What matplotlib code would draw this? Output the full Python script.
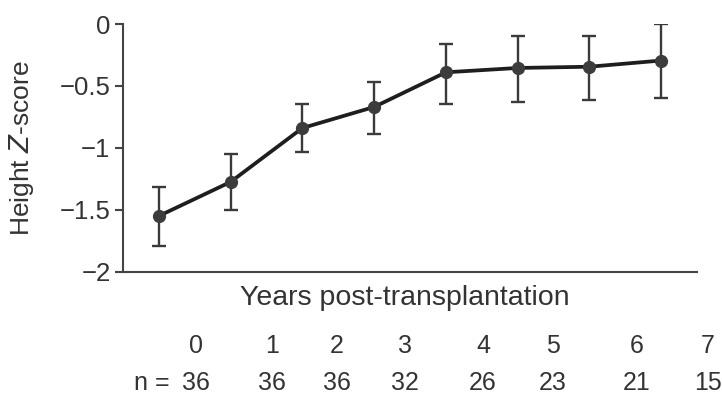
import matplotlib
matplotlib.use("Agg")
import matplotlib.pyplot as plt

years = [0, 1, 2, 3, 4, 5, 6, 7]
n_counts = [36, 36, 36, 32, 26, 23, 21, 15]
z_mean = [-1.55, -1.275, -0.84, -0.67, -0.39, -0.355, -0.345, -0.295]
z_upper = [-1.32, -1.05, -0.645, -0.47, -0.16, -0.095, -0.095, 0.0]
z_lower = [-1.79, -1.50, -1.03, -0.89, -0.645, -0.63, -0.61, -0.595]

plt.rcParams['font.family'] = ['Liberation Sans', 'DejaVu Sans']
TXT = '#333333'

fig = plt.figure(figsize=(7.22, 3.97), dpi=100)
ax = fig.add_axes([123/722, 1 - 271.7/397, (697 - 123)/722, (271.7 - 24)/397])

err_lo = [m - l for m, l in zip(z_mean, z_lower)]
err_hi = [u - m for m, u in zip(z_mean, z_upper)]
ax.errorbar(years, z_mean, yerr=[err_lo, err_hi], fmt='none', ecolor='#3a3a3a',
            elinewidth=1.7, capsize=5, capthick=1.7, zorder=2)
ax.plot(years, z_mean, color='#1e1e1e', lw=2.7, zorder=3)
ax.plot(years, z_mean, 'o', color='#3c3c3c', ms=8.5, zorder=4)

ax.set_xlim(-0.5, 7.5)
ax.set_ylim(-2, 0)
ax.set_yticks([0, -0.5, -1, -1.5, -2])
ax.set_yticklabels(['0', '\u22120.5', '\u22121', '\u22121.5', '\u22122'])
ax.set_xticks([])
for s in ['top', 'right']:
    ax.spines[s].set_visible(False)
for s in ['left', 'bottom']:
    ax.spines[s].set_color('#444444')
    ax.spines[s].set_linewidth(1.5)
ax.tick_params(axis='y', direction='out', length=6, width=1.5, color='#444444',
               labelsize=18.5, labelcolor=TXT, pad=3)

ax.set_ylabel('Height $\\mathit{Z}$-score', fontsize=19, color=TXT)
ax.yaxis.set_label_coords((36 - 123) / 574, 0.5)
fig.text(405/722, 1 - 298/397, 'Years post-transplantation', ha='center', va='center',
         fontsize=20.5, color=TXT)

# year and n labels (layout positions in pixels, as in the reference)
label_px = [196, 272, 337, 405, 483, 553, 637, 708]
for px, yr, n in zip(label_px, years, n_counts):
    fig.text(px/722, 1 - 346/397, str(yr), ha='center', va='center', fontsize=18, color=TXT)
    fig.text(px/722, 1 - 383/397, str(n), ha='center', va='center', fontsize=18, color=TXT)
fig.text(152/722, 1 - 383/397, 'n =', ha='center', va='center', fontsize=18, color=TXT)

fig.savefig('out.png', dpi=100)
